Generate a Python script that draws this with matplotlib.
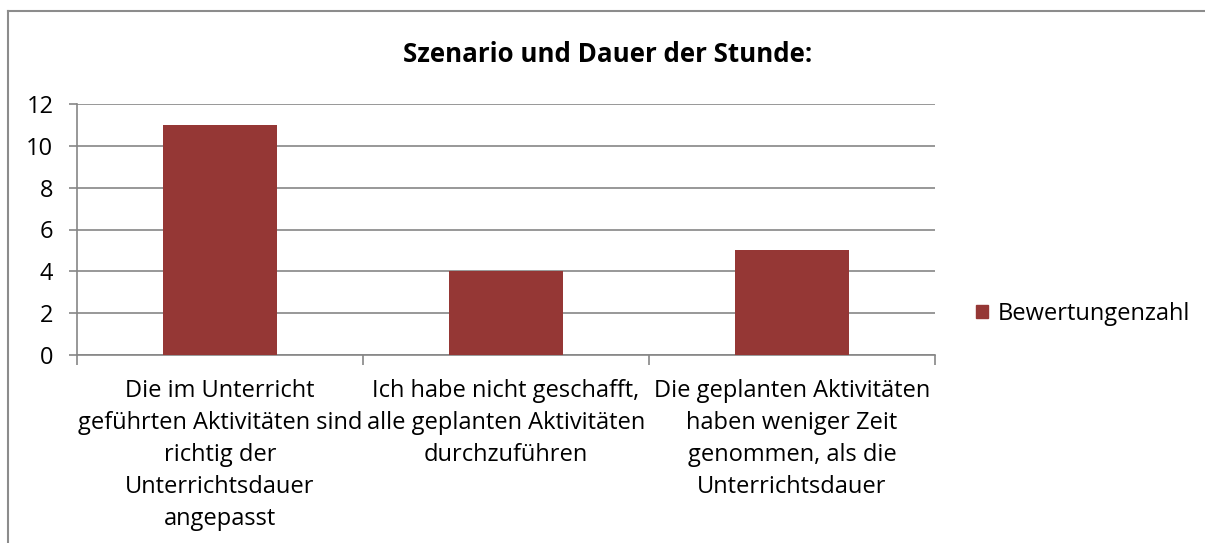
import matplotlib
matplotlib.use("Agg")
import matplotlib.pyplot as plt
from matplotlib.lines import Line2D
from matplotlib.patches import Patch
from matplotlib.transforms import offset_copy

categories = [
    "Die im Unterricht\ngeführten Aktivitäten sind\nrichtig der\nUnterrichtsdauer\nangepasst",
    "Ich habe nicht geschafft,\nalle geplanten Aktivitäten\ndurchzuführen",
    "Die geplanten Aktivitäten\nhaben weniger Zeit\ngenommen, als die\nUnterrichtsdauer",
]
values = [11, 4, 5]
yticks = [0, 2, 4, 6, 8, 10, 12]
series_name = "Bewertungenzahl"
title = "Szenario und Dauer der Stunde:"

bar_color = "#953735"
grid_color = "#868686"

plt.rcParams["font.family"] = ["Open Sans", "DejaVu Sans"]

W, H = 1205, 543
fig = plt.figure(figsize=(W / 100, H / 100), dpi=100)

# outer chart frame
fig.add_artist(Line2D([8 / W, 1.0], [1 - 11 / H, 1 - 11 / H], color="#8c8c8c", lw=1.5, transform=fig.transFigure))
fig.add_artist(Line2D([8 / W, 8 / W], [0, 1 - 11 / H], color="#8c8c8c", lw=1.5, transform=fig.transFigure))

ax = fig.add_axes([77 / W, 1 - 355 / H, (935 - 77) / W, (355 - 104) / H])
x = list(range(len(categories)))
ax.bar(x, values, width=0.4, color=bar_color, zorder=3)
ax.set_xlim(-0.5, len(categories) - 0.5)
ax.set_ylim(0, 12)
ax.set_yticks(yticks)
ax.set_yticklabels([str(v) for v in yticks], fontsize=17)
ax.yaxis.grid(True, color=grid_color, lw=1.2, zorder=0)
ax.tick_params(axis="y", length=6, color=grid_color, width=1.2, pad=11)

# category labels centred, ticks at category boundaries
ax.set_xticks([i - 0.5 for i in range(len(categories) + 1)])
ax.set_xticklabels([])
ax.tick_params(axis="x", length=7, color=grid_color, width=1.2, direction="out")
label_tr = offset_copy(ax.get_xaxis_transform(), fig=fig, x=0, y=-24, units="dots")
for i, lab in enumerate(categories):
    ax.text(i, 0, lab, transform=label_tr, ha="center", va="top",
            fontsize=17, linespacing=1.45)

for s in ["top", "right"]:
    ax.spines[s].set_visible(False)
for s in ["left", "bottom"]:
    ax.spines[s].set_color(grid_color)
    ax.spines[s].set_linewidth(1.2)

fig.text(608 / W, 1 - 54 / H, title, ha="center", va="center", fontsize=18.6, fontweight="bold")

fig.legend(handles=[Patch(color=bar_color, label=series_name)], loc="center left",
           bbox_to_anchor=(976 / W, 1 - 314 / H), frameon=False, fontsize=17,
           handlelength=0.5, handleheight=0.5, handletextpad=0.42, borderaxespad=0,
           borderpad=0)

fig.savefig("out.png", dpi=100)
